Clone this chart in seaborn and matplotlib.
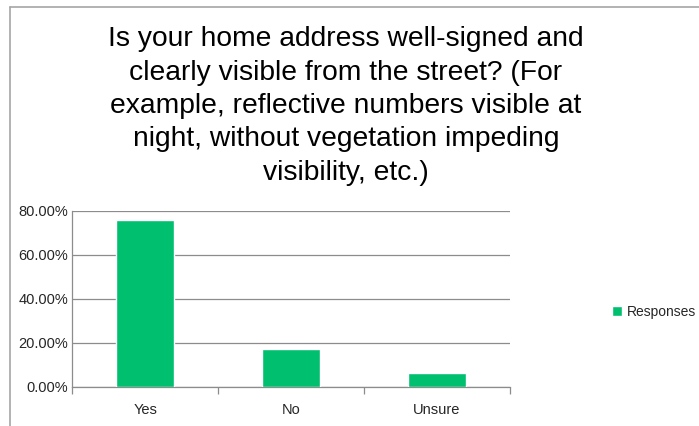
import matplotlib
matplotlib.use("Agg")
import matplotlib.pyplot as plt
from matplotlib.lines import Line2D
from matplotlib.ticker import FixedLocator, FuncFormatter
import seaborn as sns
import pandas as pd

categories = ["Yes", "No", "Unsure"]
values = [75.8, 17.1, 6.3]
series_name = "Responses"
title_text = ("Is your home address well-signed and\n"
              "clearly visible from the street? (For\n"
              "example, reflective numbers visible at\n"
              "night, without vegetation impeding\n"
              "visibility, etc.)")

sns.set_theme(style="white")
plt.rcParams['font.family'] = ['Liberation Sans', 'DejaVu Sans']

df = pd.DataFrame({"Answer": categories, "Share": values})

fig = plt.figure(figsize=(6.99, 4.26), dpi=100)
ax = fig.add_axes([0.1034, 0.0923, 0.7296 - 0.1034, 0.5054 - 0.0923])

sns.barplot(data=df, x="Answer", y="Share", color="#00BF6F", saturation=1,
            width=0.4, ax=ax, label=series_name, zorder=3)

ax.set_xlim(-0.5, len(categories) - 0.5)
ax.set_ylim(0, 80)
ax.set_yticks([0, 20, 40, 60, 80])
ax.yaxis.set_major_formatter(FuncFormatter(lambda v, p: f"{v:.2f}%"))
ax.grid(axis="y", color="#8c8c8c", linewidth=0.9, zorder=0)
ax.set_xlabel("")
ax.set_ylabel("")

for s in ["top", "right"]:
    ax.spines[s].set_visible(False)
ax.spines["left"].set_color("#8c8c8c")
ax.spines["bottom"].set_color("#8c8c8c")
ax.spines["left"].set_linewidth(0.9)
ax.spines["bottom"].set_linewidth(0.9)

ax.xaxis.set_minor_locator(FixedLocator([-0.5, 0.5, 1.5, 2.5]))
ax.tick_params(axis="x", which="major", length=0, pad=12, labelsize=10.5, labelcolor="#262626")
ax.tick_params(axis="x", which="minor", length=5, width=0.9, color="#8c8c8c", direction="out", bottom=True)
ax.tick_params(axis="y", which="major", length=0, left=False, pad=3,
               labelsize=10.5, labelcolor="#262626")

leg = ax.legend(loc="center left", bbox_to_anchor=(612 / 699, 0.268), bbox_transform=fig.transFigure,
                frameon=False, fontsize=10, handlelength=0.7, handleheight=0.7,
                handletextpad=0.35, borderaxespad=0, borderpad=0)
for t in leg.get_texts():
    t.set_color("#262626")

fig.text(346 / 699, 1 - 26 / 426, title_text, ha="center", va="top",
         fontsize=20.3, linespacing=1.375, color="black")

# chart border
fig.add_artist(Line2D([9.5 / 699, 1.0], [1 - 7 / 426, 1 - 7 / 426], transform=fig.transFigure,
                      color="#a6a6a6", linewidth=1.2))
fig.add_artist(Line2D([9.5 / 699, 9.5 / 699], [0, 1 - 7 / 426], transform=fig.transFigure,
                      color="#a6a6a6", linewidth=1.2))

fig.savefig("out.png", dpi=100, facecolor="white")
